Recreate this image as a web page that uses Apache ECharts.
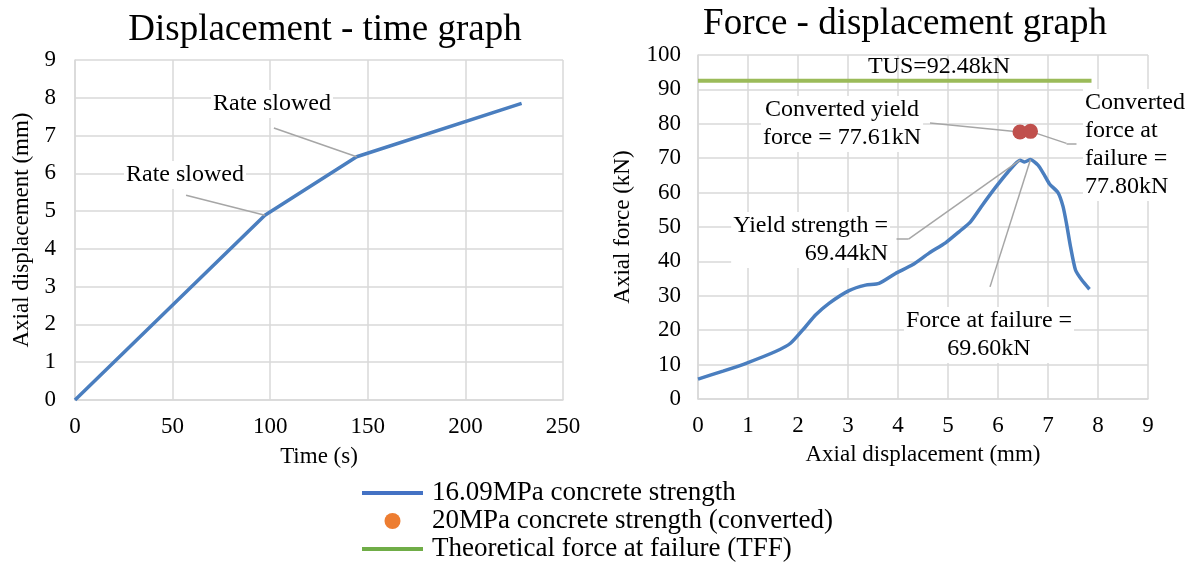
<!DOCTYPE html>
<html>
<head>
<meta charset="utf-8">
<script src="https://cdn.jsdelivr.net/npm/echarts@6/dist/echarts.min.js"></script>
<style>
html,body{margin:0;padding:0;background:#fff;}
#main{width:1194px;height:565px;}
</style>
</head>
<body>
<div id="main"></div>
<script>
// ---- data ----
const timeSec = [0, 97.3, 144.3, 228.8];
const dispMm  = [0, 4.89, 6.44, 7.85];

const fdDisp  = [0, 0.5, 1.0, 1.55, 1.85, 2.15, 2.35, 2.62, 3.02, 3.35, 3.62, 3.95, 4.29, 4.62, 4.95, 5.22, 5.45, 5.69, 5.95, 6.2, 6.44, 6.53, 6.65, 6.8, 6.92, 7.03, 7.2, 7.3, 7.37, 7.45, 7.55, 7.68, 7.83];
const fdForce = [5.8, 8.1, 10.6, 13.8, 16.2, 21.0, 24.4, 27.8, 31.5, 33.1, 33.6, 36.5, 39.0, 42.4, 45.4, 48.6, 51.5, 56.4, 61.5, 66.0, 69.44, 68.9, 69.60, 68.0, 65.3, 62.5, 60.0, 56.0, 51.0, 44.3, 37.5, 34.5, 31.9];

const convDisp  = [6.44, 6.65];
const convForce = [77.61, 77.80];

const tusDisp  = [0, 7.87];
const tusForce = [92.48, 92.48];

const seriesNames = ['16.09MPa concrete strength', '20MPa concrete strength (converted)', 'Theoretical force at failure (TFF)'];
const titles = ['Displacement - time graph', 'Force - displacement graph'];

// ---- build ----
const pairs = (xs, ys) => xs.map((x, i) => [x, ys[i]]);
const FONT = '"Liberation Serif", "Times New Roman", serif';
const GRID = '#d9d9d9';
const LEAD = '#a6a6a6';
const BLUE = '#4a7ebf';
const LINE_ICON = 'path://M0,0L60,0L60,4L0,4Z';

function leader(pts) {
  const d = [];
  for (let i = 0; i < pts.length - 1; i++) d.push([{coord: pts[i]}, {coord: pts[i + 1]}]);
  return d;
}

function axisCommon(min, max, interval, margin) {
  return {
    type: 'value', min, max, interval,
    axisLine: {show: true, lineStyle: {color: GRID, width: 1.5}},
    axisTick: {show: false},
    splitLine: {show: true, lineStyle: {color: GRID, width: 1.5}},
    axisLabel: {color: '#000', fontFamily: FONT, fontSize: 23, margin},
    nameTextStyle: {color: '#000', fontFamily: FONT, fontSize: 23},
    nameLocation: 'middle'
  };
}

const chart = echarts.init(document.getElementById('main'));
const txt = (x, y, text, align, noBg) => ({
  type: 'text', x, y, z: 100,
  style: Object.assign({text, fill: '#000', font: '24px ' + FONT, align: align || 'center', verticalAlign: 'middle', lineHeight: 28},
          noBg ? {} : {backgroundColor: '#fff', padding: [0, 2]})
});

chart.setOption({
  animation: false,
  backgroundColor: '#fff',
  title: [
    {text: titles[0], left: 320, top: 7, textAlign: 'center', textStyle: {fontFamily: FONT, fontSize: 37, fontWeight: 'normal', color: '#000'}},
    {text: titles[1], left: 900, top: 1, textAlign: 'center', textStyle: {fontFamily: FONT, fontSize: 37, fontWeight: 'normal', color: '#000'}}
  ],
  grid: [
    {left: 75, top: 60, width: 488, height: 340},
    {left: 698, top: 55, width: 450, height: 344}
  ],
  xAxis: [
    Object.assign(axisCommon(0, 250, 50, 15), {gridIndex: 0, name: 'Time (s)', nameGap: 45}),
    Object.assign(axisCommon(0, 9, 1, 15), {gridIndex: 1, name: 'Axial displacement (mm)', nameGap: 44})
  ],
  yAxis: [
    Object.assign(axisCommon(0, 9, 1, 19), {gridIndex: 0, name: 'Axial displacement (mm)', nameGap: 42}),
    Object.assign(axisCommon(0, 100, 10, 17), {gridIndex: 1, name: 'Axial force (kN)', nameGap: 64})
  ],
  legend: {
    orient: 'vertical', left: 362, top: 479, padding: 0,
    itemWidth: 61, itemHeight: 16, itemGap: 0,
    textStyle: {fontFamily: FONT, fontSize: 27, color: '#000', lineHeight: 28, padding: [0, 0, 0, 4]},
    data: [
      {name: seriesNames[0], icon: LINE_ICON, itemStyle: {color: '#4472c4'}},
      {name: seriesNames[1], icon: 'circle', itemStyle: {color: '#ed7d31'}},
      {name: seriesNames[2], icon: LINE_ICON, itemStyle: {color: '#70ad47'}}
    ]
  },
  series: [
    {
      name: seriesNames[0], type: 'line', xAxisIndex: 0, yAxisIndex: 0,
      data: pairs(timeSec, dispMm), symbol: 'none', color: BLUE,
      lineStyle: {color: BLUE, width: 3.5},
      markLine: {
        silent: true, symbol: ['none', 'none'], label: {show: false},
        lineStyle: {color: LEAD, width: 1.5, type: 'solid'},
        data: leader([[56.9, 5.42], [timeSec[1], dispMm[1]]]).concat(leader([[101.9, 7.2], [timeSec[2], dispMm[2]]]))
      }
    },
    {
      name: seriesNames[2], type: 'line', xAxisIndex: 1, yAxisIndex: 1,
      data: pairs(tusDisp, tusForce), symbol: 'none', color: '#9bbb59',
      lineStyle: {color: '#9bbb59', width: 4}
    },
    {
      name: seriesNames[0], type: 'line', xAxisIndex: 1, yAxisIndex: 1,
      data: pairs(fdDisp, fdForce), symbol: 'none', smooth: 0.2, color: BLUE,
      lineStyle: {color: BLUE, width: 3.5},
      markLine: {
        silent: true, symbol: ['none', 'none'], label: {show: false},
        lineStyle: {color: LEAD, width: 1.5, type: 'solid'},
        data: []
          .concat(leader([[3.97, 46.5], [4.21, 46.5], [6.44, 69.44]]))
          .concat(leader([[5.84, 32.6], [6.65, 69.60]]))
          .concat(leader([[4.64, 80.2], [convDisp[0], convForce[0]]]))
          .concat(leader([[convDisp[1], convForce[1]], [7.37, 74.3], [7.57, 74.3]]))
      }
    },
    {
      name: seriesNames[1], type: 'scatter', xAxisIndex: 1, yAxisIndex: 1,
      data: pairs(convDisp, convForce), symbolSize: 15, color: '#ed7d31',
      itemStyle: {color: '#c0504d', opacity: 1}, z: 5
    }
  ],
  graphic: [
    txt(185, 175, 'Rate slowed'),
    txt(272, 104, 'Rate slowed'),
    txt(939, 67, 'TUS=92.48kN', 'center', true),
    txt(842, 124, 'Converted yield\nforce = 77.61kN'),
    txt(1083, 145, 'Converted\nforce at\nfailure =\n77.80kN', 'left'),
    txt(890, 240, 'Yield strength =\n69.44kN', 'right'),
    txt(989, 335, 'Force at failure =\n69.60kN')
  ]
});
</script>
</body>
</html>
